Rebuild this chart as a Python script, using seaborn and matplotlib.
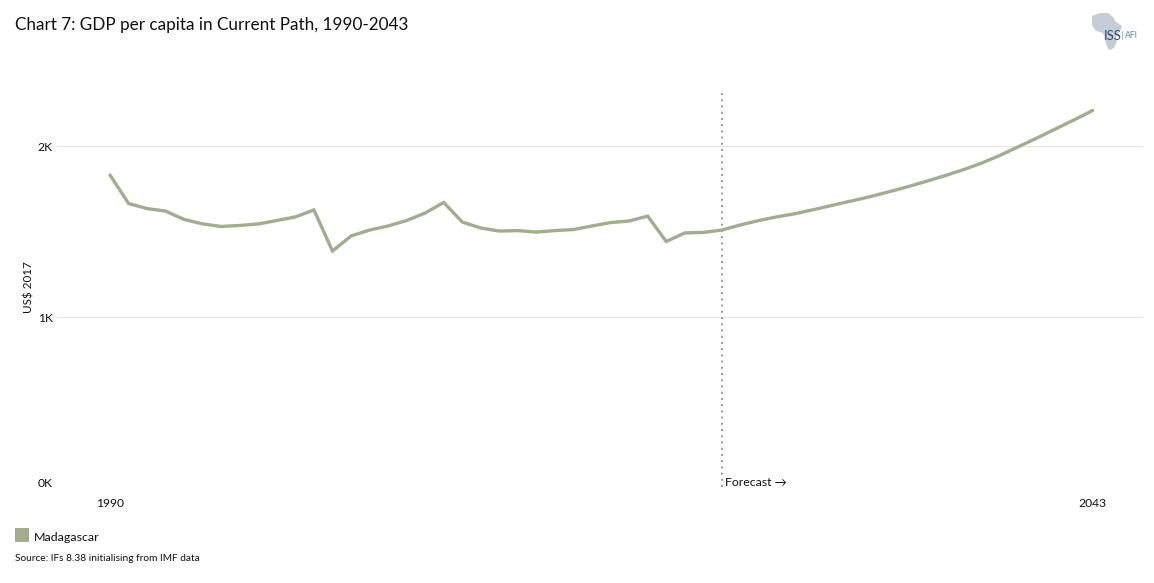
import matplotlib
matplotlib.use("Agg")
import matplotlib.pyplot as plt
from matplotlib.patches import Polygon, Rectangle
from matplotlib.transforms import ScaledTranslation
import pandas as pd
import seaborn as sns

years = list(range(1990, 2044))
gdp = [1830, 1663, 1633, 1618, 1569, 1543, 1528, 1534, 1543, 1563, 1584, 1625,
       1384, 1472, 1507, 1531, 1563, 1607, 1669, 1554, 1519, 1501, 1504, 1495,
       1504, 1510, 1531, 1551, 1560, 1589, 1440, 1490, 1493, 1507,
       1537, 1563, 1585, 1604, 1628, 1653, 1678, 1703, 1731, 1760, 1792, 1825,
       1860, 1899, 1945, 1996, 2047, 2100, 2153, 2208]
country = "Madagascar"
y_ticks = [0, 1000, 2000]
y_tick_labels = ["0K", "1K", "2K"]
x_ticks = [1990, 2043]
forecast_year = 2023

line_col = "#a2ad8d"
W, H = 1154, 583

sns.set_theme(style="white")
plt.rcParams["font.family"] = ["Lato", "DejaVu Sans"]

df = pd.DataFrame({"year": years, "gdp": gdp})

fig = plt.figure(figsize=(W / 100, H / 100), dpi=100)
# axes box in pixels: x 57-1143, y 90-487
ax = fig.add_axes([57 / W, 1 - 487 / H, (1143 - 57) / W, (487 - 90) / H])

sns.lineplot(data=df, x="year", y="gdp", color=line_col, linewidth=2.4, ax=ax,
             legend=False, solid_joinstyle="miter")

ax.set_xlim(1990 - 53 / 18.54, 1990 + (1143 - 110) / 18.54)
ax.set_ylim(0, 397 / 0.1705)
sns.despine(ax=ax, left=True, bottom=True, right=True, top=True)

for v in y_ticks[1:]:
    ax.axhline(v, color="#e4e4e4", lw=0.8, zorder=0)
ax.plot([forecast_year, forecast_year], [0, 397 / 0.1705], color="#9a9a9a", lw=1.4,
        ls=(0, (1, 2.2)), zorder=1, scalex=False, scaley=False)

ax.set_yticks(y_ticks)
ax.set_yticklabels(y_tick_labels, fontsize=8.7, color="#111111")
ax.set_xticks(x_ticks)
ax.set_xticklabels([str(x) for x in x_ticks], fontsize=8.7, color="#111111")
ax.tick_params(axis="x", length=2, width=0.6, color="#eeeeee", pad=6)
ax.tick_params(axis="y", length=3, width=0.6, color="#eeeeee", pad=0)
# tick labels sit a little off the gridlines in the original
for lab, dy in zip(ax.get_yticklabels(), [3.5, -1.5, -1.5]):
    lab.set_verticalalignment("center")
    lab.set_transform(lab.get_transform() + ScaledTranslation(0, dy / 100, fig.dpi_scale_trans))
ax.set_xlabel("")
ax.set_ylabel("")

ax.annotate("Forecast →", (forecast_year, 0), xytext=(2, 3.5), textcoords="offset points",
            fontsize=8.8, color="#111111", va="center", ha="left")

fig.text(29.5 / W, 1 - 287 / H, "US$ 2017", rotation=90, fontsize=8.4, color="#111111",
         ha="center", va="center")
fig.text(15 / W, 1 - 25 / H, "Chart 7: GDP per capita in Current Path, 1990-2043",
         fontsize=12.3, color="#111111", ha="left", va="center")

# legend swatch and source
fig.add_artist(Rectangle((15 / W, 1 - 542 / H), 14 / W, 14 / H, color=line_col,
                         transform=fig.transFigure, lw=0))
fig.text(34 / W, 1 - 537.5 / H, country, fontsize=8.9, color="#111111", ha="left", va="center")
fig.text(15 / W, 1 - 558.5 / H, "Source: IFs 8.38 initialising from IMF data", fontsize=7.25,
         color="#111111", ha="left", va="center")

# logo
africa = [(1092, 16), (1100, 13), (1108, 13), (1113, 17), (1116, 22), (1122, 26), (1121, 29),
          (1116, 37), (1117, 41), (1114, 48), (1109, 50), (1106, 44), (1104, 36), (1103, 33),
          (1096, 31), (1092, 25)]
fig.add_artist(Polygon([(x / W, 1 - y / H) for x, y in africa], closed=True, color="#c6ccd5",
                       transform=fig.transFigure, lw=0))
fig.text(1104 / W, 1 - 36 / H, "ISS", fontsize=9.4, color="#2b4c73", ha="left", va="center")
fig.text(1122 / W, 1 - 36 / H, "|", fontsize=7.5, color="#8fb4d0", ha="center", va="center")
fig.text(1124.5 / W, 1 - 36 / H, "AFI", fontsize=6.2, color="#4a90c2", ha="left", va="center")

fig.savefig("out.png", dpi=100, facecolor="white")
